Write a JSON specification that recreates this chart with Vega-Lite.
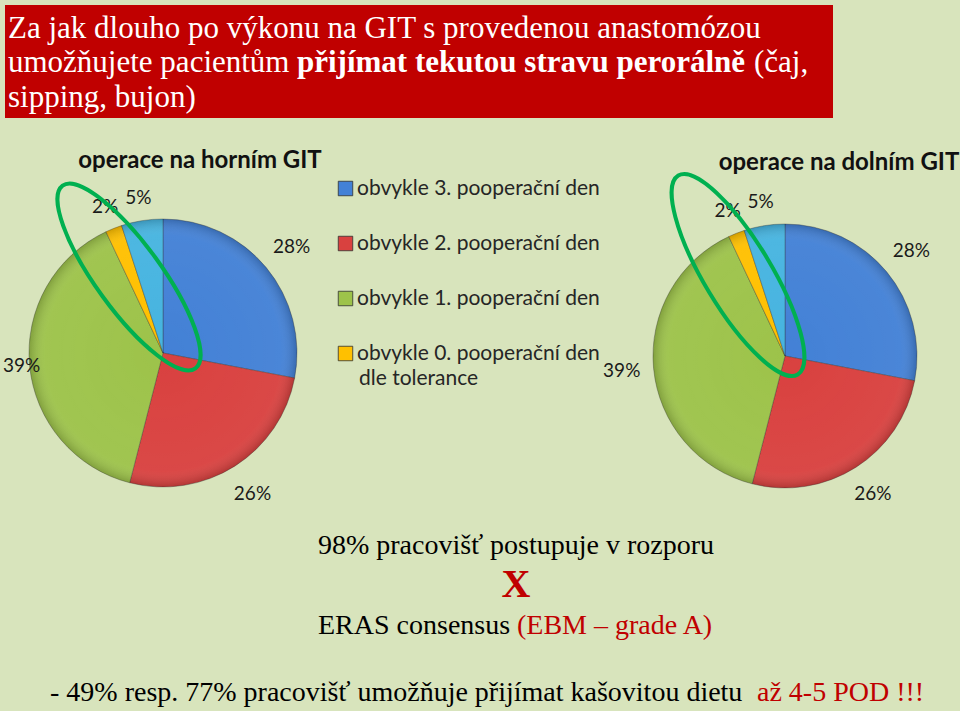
{
  "$schema": "https://vega.github.io/schema/vega-lite/v6.json",
  "width": 960,
  "height": 711,
  "autosize": "none",
  "padding": 0,
  "background": "#d8e4bc",
  "config": {"view": {"stroke": null}},
  "data": {
    "values": [
      {"operace": "horní", "kategorie": "obvykle 3. pooperační den", "podil": 0.28, "poradi": 1},
      {"operace": "horní", "kategorie": "obvykle 2. pooperační den", "podil": 0.26, "poradi": 2},
      {"operace": "horní", "kategorie": "obvykle 1. pooperační den", "podil": 0.39, "poradi": 3},
      {"operace": "horní", "kategorie": "obvykle 0. pooperační den dle tolerance", "podil": 0.02, "poradi": 4},
      {"operace": "horní", "kategorie": "jiné", "podil": 0.05, "poradi": 5},
      {"operace": "dolní", "kategorie": "obvykle 3. pooperační den", "podil": 0.28, "poradi": 1},
      {"operace": "dolní", "kategorie": "obvykle 2. pooperační den", "podil": 0.26, "poradi": 2},
      {"operace": "dolní", "kategorie": "obvykle 1. pooperační den", "podil": 0.39, "poradi": 3},
      {"operace": "dolní", "kategorie": "obvykle 0. pooperační den dle tolerance", "podil": 0.02, "poradi": 4},
      {"operace": "dolní", "kategorie": "jiné", "podil": 0.05, "poradi": 5}
    ]
  },
  "layer": [
    {
      "data": {"values": [{}]},
      "mark": {"type": "rect", "fill": "#c00000"},
      "encoding": {
        "x": {"datum": 5, "type": "quantitative", "scale": {"domain": [0, 960], "nice": false, "zero": false}, "axis": null},
        "x2": {"datum": 833},
        "y": {"datum": 5, "type": "quantitative", "scale": {"domain": [711, 0], "nice": false, "zero": false}, "axis": null},
        "y2": {"datum": 118}
      }
    },
    {
      "data": {"values": [{}]},
      "mark": {"type": "text", "text": "Za jak dlouho po výkonu na GIT s provedenou anastomózou", "font": "Liberation Serif", "fontSize": 31, "color": "#ffffff", "align": "left", "baseline": "alphabetic"},
      "encoding": {"x": {"datum": 8, "type": "quantitative"}, "y": {"datum": 38, "type": "quantitative"}}
    },
    {
      "data": {"values": [{}]},
      "mark": {"type": "text", "text": "umožňujete pacientům", "font": "Liberation Serif", "fontSize": 31, "color": "#ffffff", "align": "left", "baseline": "alphabetic"},
      "encoding": {"x": {"datum": 8, "type": "quantitative"}, "y": {"datum": 72, "type": "quantitative"}}
    },
    {
      "data": {"values": [{}]},
      "mark": {"type": "text", "text": "přijímat tekutou stravu perorálně", "font": "Liberation Serif", "fontSize": 31, "fontWeight": "bold", "color": "#ffffff", "align": "left", "baseline": "alphabetic"},
      "encoding": {"x": {"datum": 297, "type": "quantitative"}, "y": {"datum": 72, "type": "quantitative"}}
    },
    {
      "data": {"values": [{}]},
      "mark": {"type": "text", "text": "(čaj,", "font": "Liberation Serif", "fontSize": 31, "color": "#ffffff", "align": "left", "baseline": "alphabetic"},
      "encoding": {"x": {"datum": 754, "type": "quantitative"}, "y": {"datum": 72, "type": "quantitative"}}
    },
    {
      "data": {"values": [{}]},
      "mark": {"type": "text", "text": "sipping, bujon)", "font": "Liberation Serif", "fontSize": 31, "color": "#ffffff", "align": "left", "baseline": "alphabetic"},
      "encoding": {"x": {"datum": 8, "type": "quantitative"}, "y": {"datum": 107, "type": "quantitative"}}
    },
    {
      "transform": [{"filter": "datum.operace == 'horní'"}],
      "mark": {"type": "arc", "outerRadius": 134, "stroke": "#303030", "strokeOpacity": 0.35, "strokeWidth": 1},
      "encoding": {
        "x": {"datum": 163, "type": "quantitative"},
        "y": {"datum": 353, "type": "quantitative"},
        "theta": {"field": "podil", "type": "quantitative", "stack": true},
        "order": {"field": "poradi"},
        "color": {
          "field": "kategorie",
          "type": "nominal",
          "scale": {
            "domain": ["obvykle 3. pooperační den", "obvykle 2. pooperační den", "obvykle 1. pooperační den", "obvykle 0. pooperační den dle tolerance", "jiné"],
            "range": ["#4381d6", "#d9413f", "#9dc34a", "#ffc000", "#46b4e0"]
          },
          "legend": {
            "orient": "none",
            "legendX": 335,
            "legendY": 178,
            "padding": 0,
            "title": null,
            "values": ["obvykle 3. pooperační den", "obvykle 2. pooperační den", "obvykle 1. pooperační den", "obvykle 0. pooperační den dle tolerance"],
            "symbolType": "square",
            "symbolSize": 210,
            "symbolStrokeWidth": 0.8,
            "symbolStrokeColor": "#555555",
            "labelFont": "Lato",
            "labelFontSize": 21,
            "labelColor": "#262626",
            "labelOffset": 1,
            "labelLimit": 400,
            "rowPadding": 33,
            "labelExpr": "datum.label == 'obvykle 0. pooperační den dle tolerance' ? 'obvykle 0. pooperační den' : datum.label"
          }
        }
      }
    },
    {
      "transform": [{"filter": "datum.operace == 'dolní'"}],
      "mark": {"type": "arc", "outerRadius": 132, "stroke": "#303030", "strokeOpacity": 0.35, "strokeWidth": 1},
      "encoding": {
        "x": {"datum": 785, "type": "quantitative"},
        "y": {"datum": 356, "type": "quantitative"},
        "theta": {"field": "podil", "type": "quantitative", "stack": true},
        "order": {"field": "poradi"},
        "color": {"field": "kategorie", "type": "nominal"}
      }
    },
    {
      "data": {"values": [{}]},
      "mark": {"type": "arc", "outerRadius": 134, "fill": {"gradient": "radial", "x1": 0.5, "y1": 0.5, "r1": 0, "x2": 0.5, "y2": 0.5, "r2": 0.5, "stops": [{"offset": 0, "color": "rgba(255,255,255,0)"}, {"offset": 0.88, "color": "rgba(255,255,255,0.04)"}, {"offset": 1, "color": "rgba(0,0,0,0.18)"}]}},
      "encoding": {"x": {"datum": 163, "type": "quantitative"}, "y": {"datum": 353, "type": "quantitative"}}
    },
    {
      "data": {"values": [{}]},
      "mark": {"type": "arc", "outerRadius": 132, "fill": {"gradient": "radial", "x1": 0.5, "y1": 0.5, "r1": 0, "x2": 0.5, "y2": 0.5, "r2": 0.5, "stops": [{"offset": 0, "color": "rgba(255,255,255,0)"}, {"offset": 0.88, "color": "rgba(255,255,255,0.04)"}, {"offset": 1, "color": "rgba(0,0,0,0.18)"}]}},
      "encoding": {"x": {"datum": 785, "type": "quantitative"}, "y": {"datum": 356, "type": "quantitative"}}
    },
    {
      "transform": [{"filter": "datum.operace == 'horní'"}],
      "mark": {"type": "text", "font": "Lato", "fontSize": 19, "color": "#1a1a1a", "radius": 167},
      "encoding": {
        "x": {"datum": 163, "type": "quantitative"},
        "y": {"datum": 353, "type": "quantitative"},
        "theta": {"field": "podil", "type": "quantitative", "stack": true},
        "order": {"field": "poradi"},
        "opacity": {"condition": {"test": "datum.poradi <= 2", "value": 1}, "value": 0},
        "text": {"field": "podil", "type": "quantitative", "format": ".0%"}
      }
    },
    {
      "transform": [{"filter": "datum.operace == 'horní'"}],
      "mark": {"type": "text", "font": "Lato", "fontSize": 19, "color": "#1a1a1a", "radius": 157},
      "encoding": {
        "x": {"datum": 163, "type": "quantitative"},
        "y": {"datum": 353, "type": "quantitative"},
        "theta": {"field": "podil", "type": "quantitative", "stack": true},
        "order": {"field": "poradi"},
        "opacity": {"condition": {"test": "datum.poradi >= 4", "value": 1}, "value": 0},
        "text": {"field": "podil", "type": "quantitative", "format": ".0%"}
      }
    },
    {
      "transform": [{"filter": "datum.operace == 'horní'"}],
      "mark": {"type": "text", "font": "Lato", "fontSize": 19, "color": "#1a1a1a", "radius": 142},
      "encoding": {
        "x": {"datum": 163, "type": "quantitative"},
        "y": {"datum": 353, "type": "quantitative"},
        "theta": {"field": "podil", "type": "quantitative", "stack": true},
        "order": {"field": "poradi"},
        "opacity": {"condition": {"test": "datum.poradi == 3", "value": 1}, "value": 0},
        "text": {"field": "podil", "type": "quantitative", "format": ".0%"}
      }
    },
    {
      "transform": [{"filter": "datum.operace == 'dolní'"}],
      "mark": {"type": "text", "font": "Lato", "fontSize": 19, "color": "#1a1a1a", "radius": 164},
      "encoding": {
        "x": {"datum": 785, "type": "quantitative"},
        "y": {"datum": 356, "type": "quantitative"},
        "theta": {"field": "podil", "type": "quantitative", "stack": true},
        "order": {"field": "poradi"},
        "opacity": {"condition": {"test": "datum.poradi <= 3", "value": 1}, "value": 0},
        "text": {"field": "podil", "type": "quantitative", "format": ".0%"}
      }
    },
    {
      "transform": [{"filter": "datum.operace == 'dolní'"}],
      "mark": {"type": "text", "font": "Lato", "fontSize": 19, "color": "#1a1a1a", "radius": 156},
      "encoding": {
        "x": {"datum": 785, "type": "quantitative"},
        "y": {"datum": 356, "type": "quantitative"},
        "theta": {"field": "podil", "type": "quantitative", "stack": true},
        "order": {"field": "poradi"},
        "opacity": {"condition": {"test": "datum.poradi >= 4", "value": 1}, "value": 0},
        "text": {"field": "podil", "type": "quantitative", "format": ".0%"}
      }
    },
    {
      "data": {"values": [{}]},
      "mark": {"type": "point", "shape": "M0,-1A0.29,1,0,1,1,0,1A0.29,1,0,1,1,0,-1Z", "size": 51076, "angle": 324, "filled": false, "stroke": "#00b050", "strokeWidth": 4, "opacity": 1},
      "encoding": {"x": {"datum": 129, "type": "quantitative"}, "y": {"datum": 277, "type": "quantitative"}}
    },
    {
      "data": {"values": [{}]},
      "mark": {"type": "point", "shape": "M0,-1A0.29,1,0,1,1,0,1A0.29,1,0,1,1,0,-1Z", "size": 53824, "angle": 329, "filled": false, "stroke": "#00b050", "strokeWidth": 4, "opacity": 1},
      "encoding": {"x": {"datum": 738, "type": "quantitative"}, "y": {"datum": 275, "type": "quantitative"}}
    },
    {
      "data": {"values": [{}]},
      "mark": {"type": "text", "text": "dle tolerance", "font": "Lato", "fontSize": 21, "color": "#262626", "align": "left", "baseline": "middle"},
      "encoding": {"x": {"datum": 359, "type": "quantitative"}, "y": {"datum": 379, "type": "quantitative"}}
    },
    {
      "data": {"values": [{}]},
      "mark": {"type": "text", "text": "operace na horním GIT", "font": "Lato", "fontSize": 24, "fontWeight": "bold", "color": "#111111", "align": "center", "baseline": "alphabetic"},
      "encoding": {"x": {"datum": 200, "type": "quantitative"}, "y": {"datum": 168, "type": "quantitative"}}
    },
    {
      "data": {"values": [{}]},
      "mark": {"type": "text", "text": "operace na dolním GIT", "font": "Lato", "fontSize": 24, "fontWeight": "bold", "color": "#111111", "align": "center", "baseline": "alphabetic"},
      "encoding": {"x": {"datum": 839, "type": "quantitative"}, "y": {"datum": 170, "type": "quantitative"}}
    },
    {
      "data": {"values": [{}]},
      "mark": {"type": "text", "text": "98% pracovišť postupuje v rozporu", "font": "Liberation Serif", "fontSize": 28, "color": "#000000", "align": "center", "baseline": "alphabetic"},
      "encoding": {"x": {"datum": 516, "type": "quantitative"}, "y": {"datum": 554, "type": "quantitative"}}
    },
    {
      "data": {"values": [{}]},
      "mark": {"type": "text", "text": "X", "font": "Liberation Serif", "fontSize": 40, "fontWeight": "bold", "color": "#c00000", "align": "center", "baseline": "alphabetic"},
      "encoding": {"x": {"datum": 516, "type": "quantitative"}, "y": {"datum": 597, "type": "quantitative"}}
    },
    {
      "data": {"values": [{}]},
      "mark": {"type": "text", "text": "ERAS consensus", "font": "Liberation Serif", "fontSize": 28, "color": "#000000", "align": "left", "baseline": "alphabetic"},
      "encoding": {"x": {"datum": 318, "type": "quantitative"}, "y": {"datum": 634, "type": "quantitative"}}
    },
    {
      "data": {"values": [{}]},
      "mark": {"type": "text", "text": "(EBM – grade A)", "font": "Liberation Serif", "fontSize": 28, "color": "#c00000", "align": "left", "baseline": "alphabetic"},
      "encoding": {"x": {"datum": 517, "type": "quantitative"}, "y": {"datum": 634, "type": "quantitative"}}
    },
    {
      "data": {"values": [{}]},
      "mark": {"type": "text", "text": "- 49% resp. 77% pracovišť umožňuje přijímat kašovitou dietu", "font": "Liberation Serif", "fontSize": 28, "color": "#000000", "align": "left", "baseline": "alphabetic"},
      "encoding": {"x": {"datum": 50, "type": "quantitative"}, "y": {"datum": 701, "type": "quantitative"}}
    },
    {
      "data": {"values": [{}]},
      "mark": {"type": "text", "text": "až 4-5 POD !!!", "font": "Liberation Serif", "fontSize": 28, "color": "#c00000", "align": "left", "baseline": "alphabetic"},
      "encoding": {"x": {"datum": 757, "type": "quantitative"}, "y": {"datum": 701, "type": "quantitative"}}
    }
  ]
}
